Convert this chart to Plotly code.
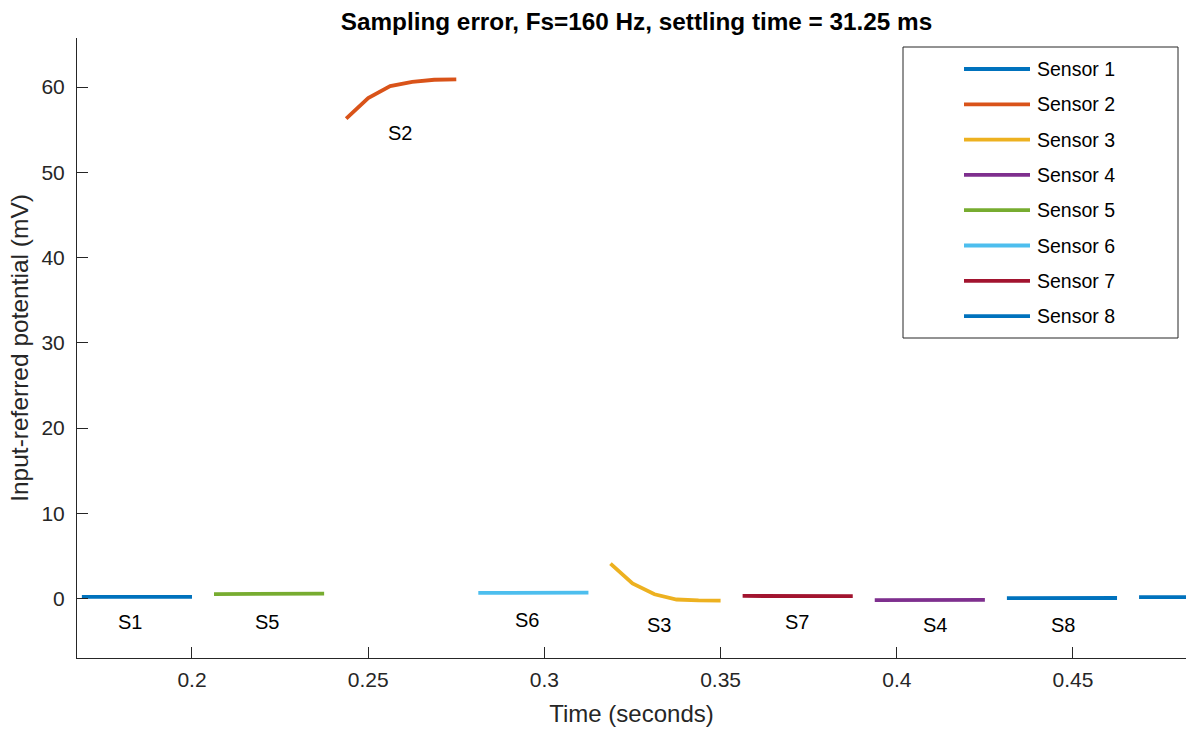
import plotly.graph_objects as go

# Sampling setup
fs = 160.0                      # Hz
samples_per_slot = 6
sensor_names = [f"Sensor {i}" for i in range(1, 9)]
sensor_colors = ["#0072BD", "#D95319", "#EDB120", "#7E2F8E",
                 "#77AC30", "#4DBEEE", "#A2142F", "#0072BD"]

# Multiplexer slots: which sensor is sampled and when its slot starts (s)
slot_sensor = [1, 5, 2, 6, 3, 7, 4, 8, 1]
slot_start = [0.16875, 0.20625, 0.24375, 0.28125, 0.31875,
              0.35625, 0.39375, 0.43125, 0.46875]

# Input-referred potential during each slot (mV)
slot1_a = [0.20, 0.20, 0.20, 0.20, 0.20, 0.20]
slot5 = [0.52, 0.53, 0.55, 0.56, 0.57, 0.58]
slot2 = [56.3, 58.7, 60.1, 60.6, 60.85, 60.9]
slot6 = [0.66, 0.66, 0.67, 0.68, 0.68, 0.68]
slot3 = [4.1, 1.76, 0.5, -0.12, -0.23, -0.25]
slot7 = [0.30, 0.30, 0.30, 0.29, 0.28, 0.27]
slot4 = [-0.20, -0.20, -0.20, -0.19, -0.17, -0.15]
slot8 = [0.05, 0.05, 0.05, 0.04, 0.05, 0.06]
slot1_b = [0.15, 0.15, 0.15, 0.15, 0.15, 0.15]
slot_values = [slot1_a, slot5, slot2, slot6, slot3, slot7, slot4, slot8, slot1_b]

# Slot annotations (text position in data units)
slot_labels = ["S1", "S5", "S2", "S6", "S3", "S7", "S4", "S8"]
slot_label_x = [0.1824, 0.2213, 0.2590, 0.2951, 0.3325, 0.3717, 0.4108, 0.4472]
slot_label_y = [-2.75, -2.75, 54.6, -2.55, -3.15, -2.75, -3.15, -3.05]

x_range = [0.16737, 0.48207]
y_range = [-6.98, 65.75]
x_ticks = [0.2, 0.25, 0.3, 0.35, 0.4, 0.45]
x_ticktext = ["0.2", "0.25", "0.3", "0.35", "0.4", "0.45"]
y_ticks = [0, 10, 20, 30, 40, 50, 60]

FONT = "Liberation Sans, Arial, Helvetica, sans-serif"
AX = "#262626"

W, H = 1187, 731
ML, MR, MT, MB = 77, 1, 38, 73
PW, PH = W - ML - MR, H - MT - MB

fig = go.Figure()

# Gather slots per sensor (None separates non-contiguous slots)
for s in range(1, 9):
    xs, ys = [], []
    for sensor, t0, vals in zip(slot_sensor, slot_start, slot_values):
        if sensor != s:
            continue
        if xs:
            xs.append(None)
            ys.append(None)
        xs += [t0 + k / fs for k in range(samples_per_slot)]
        ys += vals
    fig.add_trace(go.Scatter(
        x=xs, y=ys, mode="lines", name=sensor_names[s - 1],
        line=dict(color=sensor_colors[s - 1], width=3.8),
        showlegend=False, connectgaps=False,
    ))

# Text labels under each slot
for lab, lx, ly in zip(slot_labels, slot_label_x, slot_label_y):
    fig.add_annotation(x=lx, y=ly, text=lab, showarrow=False,
                       font=dict(family=FONT, size=20, color="#000000"),
                       xanchor="center", yanchor="middle")

# Boxed legend in the upper right
def px_to_paper(px, py):
    return (px - ML) / PW, (H - MB - py) / PH

bx0, by0 = px_to_paper(903, 338)
bx1, by1 = px_to_paper(1178, 47)
fig.add_shape(type="rect", xref="paper", yref="paper",
              x0=bx0, y0=by0, x1=bx1, y1=by1,
              line=dict(color=AX, width=1), fillcolor="white", layer="above")
for i, (name, col) in enumerate(zip(sensor_names, sensor_colors)):
    row_y = 69 + 35.3 * i
    lx0, ly = px_to_paper(964, row_y)
    lx1, _ = px_to_paper(1030, row_y)
    tx, _ = px_to_paper(1035, row_y)
    fig.add_shape(type="line", xref="paper", yref="paper",
                  x0=lx0, x1=lx1, y0=ly, y1=ly,
                  line=dict(color=col, width=3.8), layer="above")
    fig.add_annotation(xref="paper", yref="paper", x=tx, y=ly, text=name,
                       showarrow=False, xanchor="left", yanchor="middle",
                       font=dict(family=FONT, size=19.5, color="#000000"))

axis_common = dict(
    showgrid=False, zeroline=False, showline=True, linecolor=AX, linewidth=1,
    ticks="inside", ticklen=11, tickwidth=1, tickcolor=AX,
    tickfont=dict(family=FONT, size=21, color=AX),
    mirror=False,
)

fig.update_layout(
    width=W, height=H,
    margin=dict(l=ML, r=MR, t=MT, b=MB),
    paper_bgcolor="white", plot_bgcolor="white",
    title=dict(text="<b>Sampling error, Fs=160 Hz, settling time = 31.25 ms</b>",
               x=(ML + PW / 2 + 5) / W, xanchor="center", y=1 - 21 / H, yanchor="middle",
               font=dict(family=FONT, size=24.3, color="#000000")),
    xaxis=dict(range=x_range, tickvals=x_ticks, ticktext=x_ticktext,
               ticklabelstandoff=3,
               title=dict(text="Time (seconds)", standoff=14,
                          font=dict(family=FONT, size=24, color=AX)),
               **axis_common),
    yaxis=dict(range=y_range, tickvals=y_ticks, ticklabelstandoff=7,
               title=dict(text="Input-referred potential (mV)", standoff=5,
                          font=dict(family=FONT, size=24.5, color=AX)),
               **axis_common),
    showlegend=False,
)

fig.write_html("out.html")
